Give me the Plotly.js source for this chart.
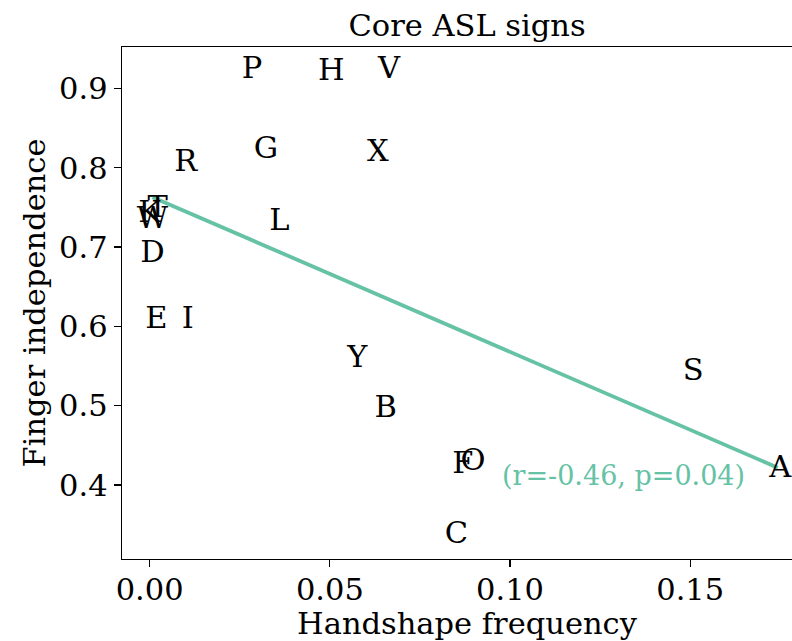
<!DOCTYPE html>
<html>
<head>
<meta charset="utf-8">
<script src="https://cdn.plot.ly/plotly-3.0.1.min.js"></script>
<style>
html, body { margin: 0; padding: 0; overflow: hidden; background: #fff; }
#chart { width: 812px; height: 641px; }
</style>
</head>
<body>
<div id="chart"></div>
<script>
// Handshape labels and their values
const signs = ["P", "H", "V", "G", "X", "R", "L", "K", "T", "W", "D", "E", "I", "Y", "B", "S", "A", "F", "O", "C"];
const handshapeFrequency = [0.0284, 0.0504, 0.0664, 0.0323, 0.0633, 0.0100, 0.0360, 0.0000, 0.0022, 0.0008, 0.0008, 0.0019, 0.0106, 0.0576, 0.0655, 0.1508, 0.1750, 0.0869, 0.0897, 0.0851];
const fingerIndependence = [0.9230, 0.9210, 0.9235, 0.8225, 0.8178, 0.8060, 0.7315, 0.7415, 0.7480, 0.7340, 0.6910, 0.6078, 0.6078, 0.5590, 0.4958, 0.5422, 0.4193, 0.4248, 0.4285, 0.3364];

// Regression line endpoints
const fitX = [0.0008, 0.1743];
const fitY = [0.7630, 0.4218];
const fitLabel = "(r=-0.46, p=0.04)";
const fitLabelPos = [0.1315, 0.4125];

const xTicks = [0.00, 0.05, 0.10, 0.15];
const xTickText = ["0.00", "0.05", "0.10", "0.15"];
const yTicks = [0.4, 0.5, 0.6, 0.7, 0.8, 0.9];
const yTickText = ["0.4", "0.5", "0.6", "0.7", "0.8", "0.9"];

const FONT = "DejaVu Serif, serif";
const GREEN = "#66c2a5";
const FS = 30.5;

const traces = [
  {
    x: fitX, y: fitY, type: "scatter", mode: "lines",
    line: { color: GREEN, width: 3.8 },
    hoverinfo: "skip", showlegend: false
  },
  {
    x: handshapeFrequency, y: fingerIndependence, text: signs,
    type: "scatter", mode: "text", textposition: "middle center",
    textfont: { family: FONT, size: FS, color: "#000" },
    cliponaxis: false, showlegend: false
  }
];

const layout = {
  width: 812, height: 641,
  margin: { l: 122, r: 0, t: 47, b: 82, pad: 0 },
  paper_bgcolor: "#fff", plot_bgcolor: "#fff",
  font: { family: FONT, size: FS, color: "#000" },
  title: {
    text: "Core ASL signs",
    font: { family: FONT, size: FS, color: "#000" },
    x: 0.5, xref: "paper", xanchor: "center",
    y: 0.961, yref: "container", yanchor: "middle"
  },
  xaxis: {
    range: [-0.00767, 0.1838],
    tickvals: xTicks, ticktext: xTickText,
    ticks: "outside", ticklen: 7, tickwidth: 1.3, tickcolor: "#000",
    showline: true, linecolor: "#000", linewidth: 1.3, mirror: true,
    showgrid: false, zeroline: false,
    ticklabelstandoff: -4,
    tickfont: { family: FONT, size: FS, color: "#000" },
    title: { text: "Handshape frequency", font: { family: FONT, size: FS, color: "#000" }, standoff: 4 }
  },
  yaxis: {
    range: [0.3066, 0.9524],
    tickvals: yTicks, ticktext: yTickText,
    ticks: "outside", ticklen: 7, tickwidth: 1.3, tickcolor: "#000",
    showline: true, linecolor: "#000", linewidth: 1.3, mirror: false,
    showgrid: false, zeroline: false,
    tickfont: { family: FONT, size: FS, color: "#000" },
    title: { text: "Finger independence", font: { family: FONT, size: FS, color: "#000" }, standoff: 4 }
  },
  annotations: [
    {
      x: fitLabelPos[0], y: fitLabelPos[1], xref: "x", yref: "y",
      text: fitLabel, showarrow: false, xanchor: "center", yanchor: "middle",
      font: { family: FONT, size: 27, color: GREEN }
    }
  ]
};

Plotly.newPlot("chart", traces, layout, { staticPlot: true, displayModeBar: false });
</script>
</body>
</html>
